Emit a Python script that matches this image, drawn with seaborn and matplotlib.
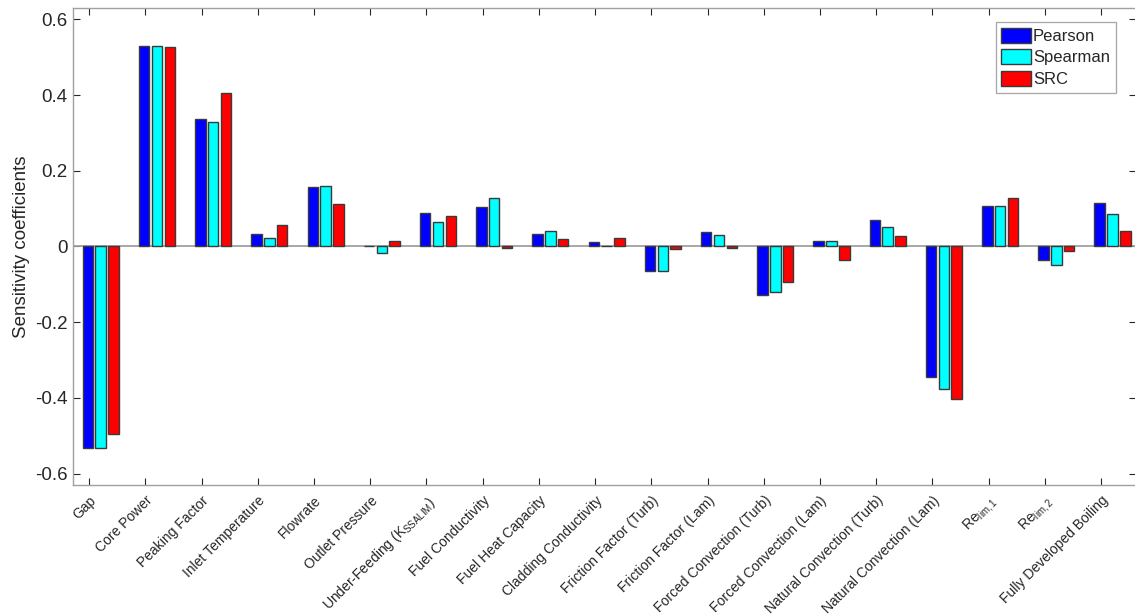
import matplotlib
matplotlib.use("Agg")
import matplotlib.pyplot as plt
import matplotlib.transforms as mtransforms
import numpy as np
import pandas as pd
import seaborn as sns

# Input parameters (x-axis categories)
parameters = [
    "Gap", "Core Power", "Peaking Factor", "Inlet Temperature", "Flowrate",
    "Outlet Pressure", r"Under-Feeding (K$_{\mathrm{SSALIM}}$)", "Fuel Conductivity",
    "Fuel Heat Capacity", "Cladding Conductivity", "Friction Factor (Turb)",
    "Friction Factor (Lam)", "Forced Convection (Turb)", "Forced Convection (Lam)",
    "Natural Convection (Turb)", "Natural Convection (Lam)",
    r"Re$_{\mathrm{lim,1}}$", r"Re$_{\mathrm{lim,2}}$", "Fully Developed Boiling",
]

methods = ["Pearson", "Spearman", "SRC"]

pearson = [-0.532, 0.530, 0.338, 0.034, 0.157, 0.001, 0.088, 0.104, 0.034, 0.012,
           -0.064, 0.038, -0.129, 0.014, 0.070, -0.346, 0.108, -0.037, 0.115]
spearman = [-0.532, 0.529, 0.328, 0.022, 0.160, -0.017, 0.064, 0.129, 0.041, 0.002,
            -0.066, 0.031, -0.120, 0.014, 0.051, -0.377, 0.106, -0.048, 0.086]
src = [-0.495, 0.526, 0.406, 0.058, 0.111, 0.015, 0.081, -0.003, 0.020, 0.023,
       -0.007, -0.003, -0.094, -0.035, 0.027, -0.404, 0.128, -0.012, 0.042]

colors = ["#0000ff", "#00ffff", "#ff0000"]

df = pd.DataFrame({
    "parameter": parameters * 3,
    "method": [m for m in methods for _ in parameters],
    "value": pearson + spearman + src,
})

sns.set_style("white")
plt.rcParams["font.family"] = ["Liberation Sans", "DejaVu Sans"]
plt.rcParams["mathtext.fontset"] = "custom"
plt.rcParams["mathtext.rm"] = "Liberation Sans"
plt.rcParams["mathtext.it"] = "Liberation Sans:italic"

fig = plt.figure(figsize=(11.35, 6.15), dpi=100)
ax = fig.add_axes([0.064, 0.2114, 0.937, 0.7756])

sns.barplot(data=df, x="parameter", y="value", hue="method", order=parameters,
            hue_order=methods, palette=colors, saturation=1, width=0.684, gap=0.18,
            edgecolor="#3a3a3a", linewidth=1.0, errorbar=None, ax=ax, zorder=3)

ax.axhline(0, color="#a0a0a0", lw=1.3, zorder=2)

ax.set_xlim(-0.5, 18.42)
ax.set_ylim(-0.63, 0.63)
ax.set_yticks([-0.6, -0.4, -0.2, 0, 0.2, 0.4, 0.6])
ax.set_yticklabels(["-0.6", "-0.4", "-0.2", "0", "0.2", "0.4", "0.6"])

tick_pos = np.arange(len(parameters)) - 0.205
ax.set_xticks(tick_pos)
ax.set_xticklabels(parameters, rotation=45, ha="right", va="top",
                   rotation_mode="anchor", fontsize=10, color="#262626")
shift = mtransforms.ScaledTranslation(11 / 100, 0, fig.dpi_scale_trans)
for lab in ax.get_xticklabels():
    lab.set_transform(lab.get_transform() + shift)

ax.tick_params(axis="y", labelsize=13.5, colors="#262626")
ax.tick_params(axis="both", direction="in", length=5, width=0.8,
               color="#262626", top=True, right=True, bottom=True, left=True)
ax.tick_params(axis="x", pad=6)

ax.set_xlabel("")
ax.set_ylabel("Sensitivity coefficients", fontsize=13.5, color="#262626")

for s in ax.spines.values():
    s.set_color("#a0a0a0")
    s.set_linewidth(1.0)
    s.set_visible(True)

leg = ax.legend(loc="upper right", bbox_to_anchor=(0.981, 0.971), fontsize=12,
                frameon=True, fancybox=False, edgecolor="#909090",
                handlelength=1.75, handleheight=1.0, handletextpad=0.15,
                labelspacing=0.33, borderpad=0.35, borderaxespad=0.0)
leg.get_frame().set_linewidth(0.9)
for h in leg.legend_handles:
    h.set_edgecolor("#3a3a3a")

fig.savefig("out.png", dpi=100)
